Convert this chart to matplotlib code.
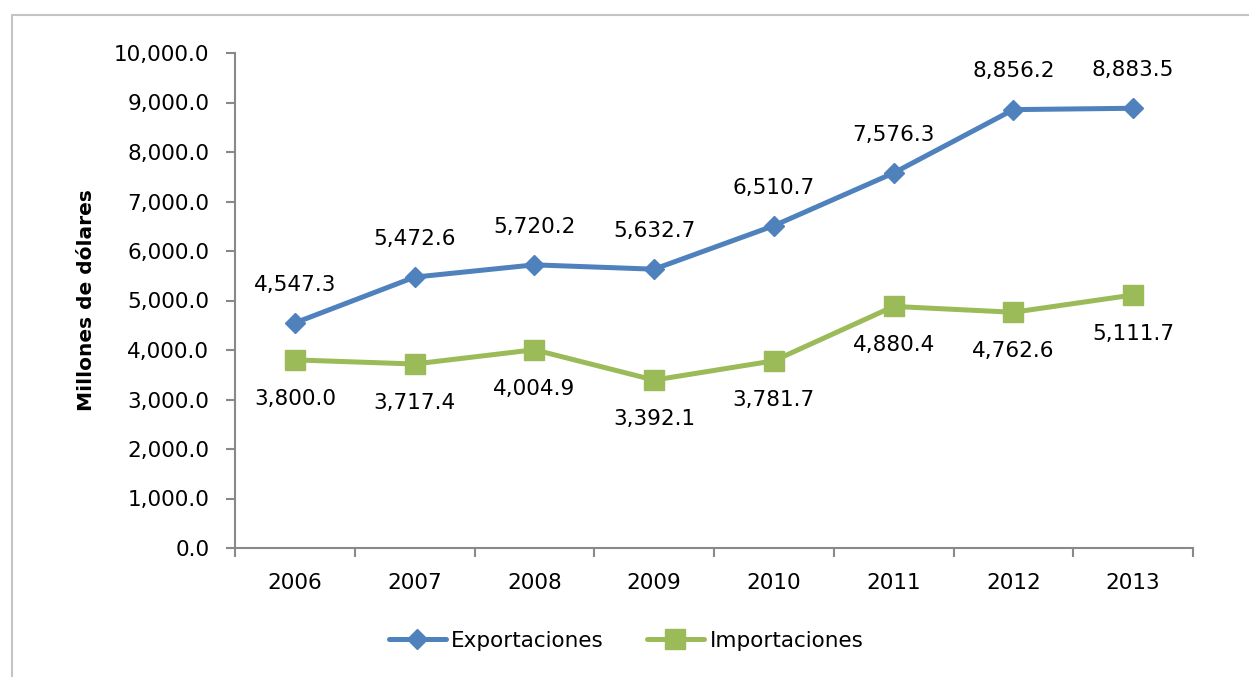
import matplotlib.pyplot as plt
from matplotlib.patches import Rectangle
from matplotlib.ticker import FuncFormatter

years = ["2006", "2007", "2008", "2009", "2010", "2011", "2012", "2013"]
exportaciones = [4547.3, 5472.6, 5720.2, 5632.7, 6510.7, 7576.3, 8856.2, 8883.5]
importaciones = [3800.0, 3717.4, 4004.9, 3392.1, 3781.7, 4880.4, 4762.6, 5111.7]

BLUE = "#4F81BD"
GREEN = "#9BBB59"
AXIS = "#898989"
FONT = "DejaVu Sans"
FS = 15.5

W, H = 1249, 677
fig = plt.figure(figsize=(W / 100, H / 100), dpi=100)
fig.patch.set_facecolor("white")

# outer chart frame
fig.patches.append(Rectangle((12 / W, -0.1), 1.2, 1 - 15 / H + 0.1,
                             transform=fig.transFigure, fill=False,
                             edgecolor="#C4C4C4", linewidth=1.5))

x0, x1 = 235, 1193
y0, y1 = 548, 53
ax = fig.add_axes([x0 / W, 1 - y0 / H, (x1 - x0) / W, (y0 - y1) / H])

n = len(years)
xs = [i + 0.5 for i in range(n)]

ax.plot(xs, exportaciones, color=BLUE, lw=3.6, marker="D", ms=10.5,
        markeredgecolor=BLUE, label="Exportaciones", solid_capstyle="round")
ax.plot(xs, importaciones, color=GREEN, lw=3.6, marker="s", ms=15,
        markeredgecolor=GREEN, label="Importaciones", solid_capstyle="round")

for x, v in zip(xs, exportaciones):
    ax.annotate(f"{v:,.1f}", (x, v), xytext=(0, 27.5), textcoords="offset points",
                ha="center", va="center", fontsize=FS, family=FONT)
for x, v in zip(xs, importaciones):
    ax.annotate(f"{v:,.1f}", (x, v), xytext=(0, -28), textcoords="offset points",
                ha="center", va="center", fontsize=FS, family=FONT)

ax.set_xlim(0, n)
ax.set_ylim(0, 10000)
ax.set_yticks(range(0, 10001, 1000))
ax.yaxis.set_major_formatter(FuncFormatter(lambda v, p: f"{v:,.1f}"))
ax.set_xticks(range(n + 1))
ax.set_xticklabels([])
ax.set_xticks(xs, minor=True)
ax.set_xticklabels(years, minor=True)
ax.tick_params(axis="x", which="minor", length=0, pad=18, labelsize=FS)
ax.tick_params(axis="x", which="major", length=6.5, width=1.5, color=AXIS, direction="out")
ax.tick_params(axis="y", length=6.5, width=1.5, color=AXIS, labelsize=FS, pad=12)
for lab in ax.get_xticklabels(minor=True) + ax.get_yticklabels():
    lab.set_family(FONT)

for s in ["top", "right"]:
    ax.spines[s].set_visible(False)
for s in ["left", "bottom"]:
    ax.spines[s].set_color(AXIS)
    ax.spines[s].set_linewidth(1.5)

ax.set_ylabel("Millones de dólares", fontsize=14.5, fontweight="bold", family=FONT)
ax.yaxis.set_label_coords((86 - x0) / (x1 - x0), 0.5)
ax.yaxis.label.set_va("center")

fig.legend(loc="center", bbox_to_anchor=(626 / W, 1 - 641 / H), ncol=2,
           frameon=False, prop={"family": FONT, "size": FS},
           handlelength=2.65, columnspacing=2.0, handletextpad=0.25)

fig.savefig("out.png", dpi=100, facecolor="white")
